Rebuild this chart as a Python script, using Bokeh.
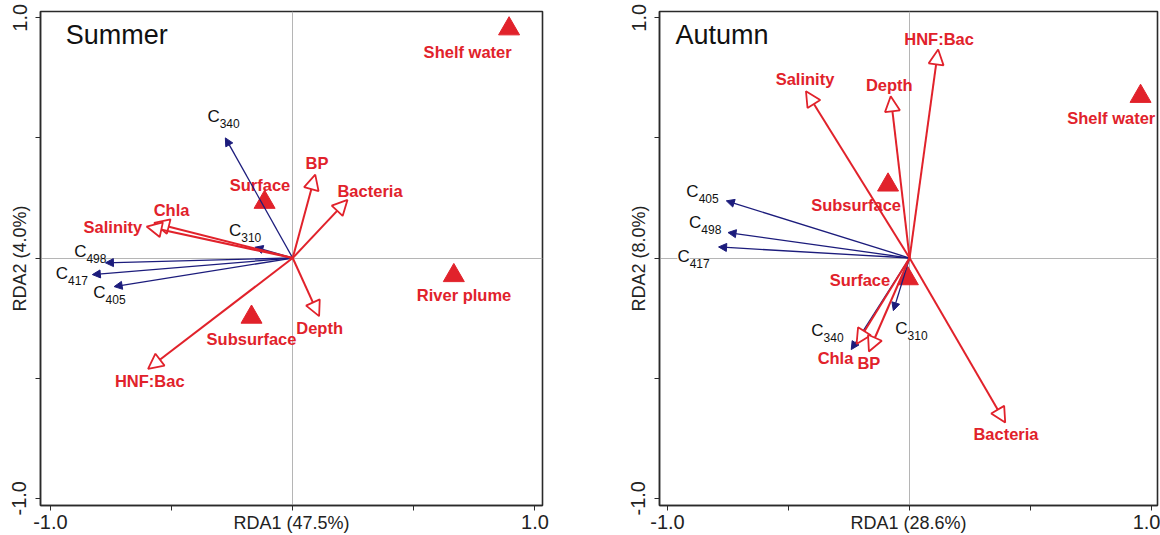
from bokeh.plotting import figure
from bokeh.models import (ColumnDataSource, Arrow, NormalHead, Label, FixedTicker,
                          Range1d, NumeralTickFormatter)
from bokeh.layouts import row
from bokeh.embed import file_html
from bokeh.resources import INLINE
from bokeh.core.properties import value

RED = "#E1222B"
NAVY = "#1C1C7C"
FONT = "Liberation Sans"

# ---------------- Summer ----------------
s_site_names = ["Shelf water", "Surface", "Subsurface", "River plume"]
s_site_x = [0.893, -0.116, -0.170, 0.665]
s_site_y = [0.954, 0.232, -0.246, -0.073]
s_site_lx = [0.722, -0.135, -0.170, 0.707]
s_site_ly = [0.859, 0.302, -0.336, -0.152]

s_env_names = ["BP", "Bacteria", "Chla", "Salinity", "Depth", "HNF:Bac"]
s_env_x = [0.093, 0.226, -0.572, -0.603, 0.109, -0.597]
s_env_y = [0.347, 0.242, 0.146, 0.131, -0.242, -0.461]
s_env_lx = [0.100, 0.319, -0.500, -0.742, 0.111, -0.590]
s_env_ly = [0.395, 0.278, 0.198, 0.131, -0.292, -0.510]

s_cdom_names = ["340", "310", "498", "417", "405"]
s_cdom_x = [-0.278, -0.156, -0.773, -0.827, -0.737]
s_cdom_y = [0.500, 0.045, -0.020, -0.069, -0.119]
s_cdom_lx = [-0.289, -0.200, -0.839, -0.915, -0.760]
s_cdom_ly = [0.579, 0.107, 0.020, -0.073, -0.150]

# ---------------- Autumn ----------------
a_site_names = ["Shelf water", "Subsurface", "Surface"]
a_site_x = [0.954, -0.089, -0.007]
a_site_y = [0.673, 0.304, -0.086]
a_site_lx = [0.833, -0.221, -0.205]
a_site_ly = [0.582, 0.220, -0.093]

a_env_names = ["HNF:Bac", "Depth", "Salinity", "Chla", "BP", "Bacteria"]
a_env_x = [0.118, -0.078, -0.428, -0.219, -0.168, 0.395]
a_env_y = [0.868, 0.673, 0.694, -0.358, -0.389, -0.685]
a_env_lx = [0.122, -0.084, -0.432, -0.306, -0.168, 0.398]
a_env_ly = [0.913, 0.722, 0.743, -0.418, -0.435, -0.731]

a_cdom_names = ["405", "498", "417", "340", "310"]
a_cdom_x = [-0.757, -0.750, -0.789, -0.241, -0.067]
a_cdom_y = [0.238, 0.106, 0.046, -0.381, -0.219]
a_cdom_lx = [-0.859, -0.848, -0.896, -0.343, 0.004]
a_cdom_ly = [0.270, 0.141, -0.003, -0.309, -0.302]


def make_panel(title, title_x, xtitle, ytitle, xr, yr, frame_w, bl, br,
               site, env, cdom, label_bg):
    p = figure(output_backend="svg", toolbar_location=None,
               frame_width=frame_w, frame_height=494,
               min_border_left=bl, min_border_right=br,
               min_border_top=11, min_border_bottom=30,
               x_range=Range1d(*xr), y_range=Range1d(*yr),
               background_fill_color="white", border_fill_color="white")
    p.outline_line_color = "#2a2a2a"
    p.outline_line_width = 1.6

    for ax, orient in ((p.xaxis, "horizontal"), (p.yaxis, "vertical")):
        ax.ticker = FixedTicker(ticks=[-1, 1], minor_ticks=[-0.5, 0, 0.5])
        ax.formatter = NumeralTickFormatter(format="0.0")
        ax.major_tick_out = 5
        ax.major_tick_in = 0
        ax.minor_tick_out = 5
        ax.minor_tick_in = 0
        ax.axis_line_color = "#2a2a2a"
        ax.axis_line_width = 1.4
        ax.major_tick_line_color = "#2a2a2a"
        ax.minor_tick_line_color = "#2a2a2a"
        ax.major_label_text_font = FONT
        ax.major_label_text_font_size = "20px"
        ax.major_label_text_color = "#222222"
        ax.major_label_orientation = orient
        ax.axis_label_text_font = FONT
        ax.axis_label_text_font_size = "18px"
        ax.axis_label_text_font_style = "normal"
        ax.axis_label_text_color = "#222222"

    p.xaxis.major_label_standoff = 4
    p.yaxis.major_label_standoff = 9
    p.xaxis.axis_label = xtitle
    p.yaxis.axis_label = ytitle
    p.xaxis.axis_label_standoff = -19
    p.yaxis.axis_label_standoff = -20

    p.xgrid.ticker = FixedTicker(ticks=[0])
    p.ygrid.ticker = FixedTicker(ticks=[0])
    p.xgrid.grid_line_color = "#b5b5b5"
    p.ygrid.grid_line_color = "#b5b5b5"

    p.add_layout(Label(x=title_x, y=0.93, text=title, text_align="left",
                       text_baseline="middle", text_font=FONT,
                       text_font_size="27px", text_color="#111111"))

    # CDOM arrows (blue)
    names, cx, cy, clx, cly = cdom
    csrc = ColumnDataSource(dict(x0=[0.0] * len(cx), y0=[0.0] * len(cy), x=cx, y=cy,
                                 lx=clx, ly=cly, c=["C"] * len(cx), sub=names))
    p.add_layout(Arrow(source=csrc, x_start="x0", y_start="y0", x_end="x", y_end="y",
                       line_color=NAVY, line_width=1.3,
                       end=NormalHead(size=8, fill_color=NAVY, line_color=NAVY,
                                      line_width=1)))

    # environmental arrows (red, open heads)
    en, ex, ey, elx, ely = env
    esrc = ColumnDataSource(dict(x0=[0.0] * len(ex), y0=[0.0] * len(ey), x=ex, y=ey,
                                 lx=elx, ly=ely, name=en))
    p.add_layout(Arrow(source=esrc, x_start="x0", y_start="y0", x_end="x", y_end="y",
                       line_color=RED, line_width=2,
                       end=NormalHead(size=15, fill_color="white", line_color=RED,
                                      line_width=1.8)))

    # sites
    sn, sx, sy, slx, sly = site
    ssrc = ColumnDataSource(dict(x=sx, y=sy, lx=slx, ly=sly, name=sn))
    p.scatter("x", "y", source=ssrc, marker="triangle", size=21,
              fill_color=RED, line_color=RED)

    # labels
    p.text("lx", "ly", text="name", source=ssrc, text_font=value(FONT),
           text_font_style="bold", text_font_size="16.5px", text_color=RED,
           text_align="center", text_baseline="middle")
    p.text("lx", "ly", text="name", source=esrc, text_font=value(FONT),
           text_font_style="bold", text_font_size="16.5px", text_color=RED,
           text_align="center", text_baseline="middle")
    bg = "white" if label_bg else None
    p.text("lx", "ly", text="c", source=csrc, text_font=value(FONT),
           text_font_size="17px", text_color="#111111", text_align="right",
           text_baseline="middle", x_offset=-3, y_offset=-2,
           background_fill_color=bg)
    p.text("lx", "ly", text="sub", source=csrc, text_font=value(FONT),
           text_font_size="12px", text_color="#111111", text_align="left",
           text_baseline="middle", x_offset=-3, y_offset=5,
           background_fill_color=bg)
    return p


p1 = make_panel("Summer", -0.937, "RDA1 (47.5%)", "RDA2 (4.0%)",
                (-1.041, 1.031), (-1.03, 1.026), 502, 40, 58,
                (s_site_names, s_site_x, s_site_y, s_site_lx, s_site_ly),
                (s_env_names, s_env_x, s_env_y, s_env_lx, s_env_ly),
                (s_cdom_names, s_cdom_x, s_cdom_y, s_cdom_lx, s_cdom_ly), False)
p2 = make_panel("Autumn", -0.967, "RDA1 (28.6%)", "RDA2 (8.0%)",
                (-1.033, 1.024), (-1.03, 1.026), 498, 59, 3,
                (a_site_names, a_site_x, a_site_y, a_site_lx, a_site_ly),
                (a_env_names, a_env_x, a_env_y, a_env_lx, a_env_ly),
                (a_cdom_names, a_cdom_x, a_cdom_y, a_cdom_lx, a_cdom_ly), True)

layout = row(p1, p2)
open("out.html", "w").write(file_html(layout, INLINE))
